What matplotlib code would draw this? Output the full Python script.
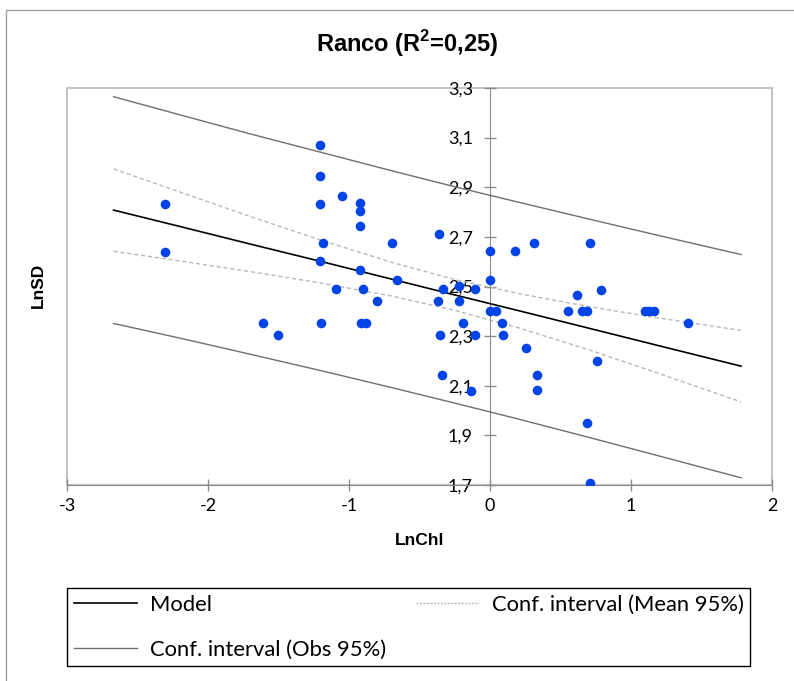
import numpy as np
import matplotlib
matplotlib.use("Agg")
import matplotlib.pyplot as plt
from matplotlib.patches import Rectangle
from matplotlib.lines import Line2D

ln_chl = [-2.303, -2.303, -1.608, -1.501, -1.203, -1.203, -1.203, -1.050, -0.920, -0.920,
          -0.920, -1.187, -1.203, -0.920, -0.693, -0.660, -0.359, 0.000, 0.180, 0.000,
          -1.094, -0.901, -0.799, -0.333, -0.222, -0.106, -0.371, -0.222, 0.000, 0.043,
          -1.199, -0.917, -0.879, -0.191, 0.085, -0.357, -0.104, 0.095, -0.343, -0.137,
          0.615, 0.787, 0.553, 0.650, 0.690, 1.099, 1.131, 1.160, 1.404, 0.258,
          0.759, 0.336, 0.336, 0.690, 0.711, 0.312, 0.711]
ln_sd = [2.834, 2.640, 2.353, 2.304, 3.069, 2.944, 2.834, 2.865, 2.835, 2.804,
         2.744, 2.676, 2.604, 2.566, 2.676, 2.527, 2.710, 2.642, 2.642, 2.527,
         2.489, 2.489, 2.443, 2.489, 2.503, 2.489, 2.443, 2.443, 2.400, 2.400,
         2.353, 2.353, 2.353, 2.353, 2.353, 2.304, 2.304, 2.304, 2.142, 2.080,
         2.466, 2.487, 2.400, 2.400, 2.400, 2.400, 2.400, 2.400, 2.353, 2.254,
         2.198, 2.142, 2.082, 1.949, 1.707, 2.675, 2.675]

# model line and bands, read at a few x positions
band_x = [-2.67, -2.2, -1.7, -1.2, -0.7, -0.25, 0.2, 0.7, 1.2, 1.78]
model_y = [2.808, 2.742, 2.671, 2.601, 2.530, 2.466, 2.403, 2.332, 2.261, 2.179]
mean_up = [2.974, 2.881, 2.782, 2.687, 2.598, 2.528, 2.472, 2.419, 2.373, 2.323]
mean_lo = [2.642, 2.603, 2.560, 2.514, 2.462, 2.404, 2.334, 2.245, 2.149, 2.035]
obs_up = [3.265, 3.192, 3.115, 3.041, 2.967, 2.902, 2.840, 2.772, 2.705, 2.629]
obs_lo = [2.351, 2.292, 2.227, 2.161, 2.093, 2.030, 1.966, 1.892, 1.817, 1.729]

xticks = [-3, -2, -1, 0, 1, 2]
yticks = [1.7, 1.9, 2.1, 2.3, 2.5, 2.7, 2.9, 3.1, 3.3]
ytick_labels = ["1,7", "1,9", "2,1", "2,3", "2,5", "2,7", "2,9", "3,1", "3,3"]

plt.rcParams['mathtext.fontset'] = 'custom'
plt.rcParams['mathtext.rm'] = 'Liberation Sans'
plt.rcParams['mathtext.bf'] = 'Liberation Sans:bold'

fig = plt.figure(figsize=(7.94, 6.81), dpi=100)
ax = fig.add_axes([67/794, 1-485/681, (772-67)/794, (485-88)/681])

# outer chart border
fig.patches.append(Rectangle((6/794, -0.05), 1.1, 1-10/681+0.05, transform=fig.transFigure,
                             fill=False, ec='#a0a0a0', lw=1))

obs_c = '#6e6e6e'
mean_c = '#b8b8b8'
ax.plot(band_x, obs_up, color=obs_c, lw=1.0)
ax.plot(band_x, obs_lo, color=obs_c, lw=1.0)
ax.plot(band_x, mean_up, color=mean_c, lw=1.0, dashes=(3, 2))
ax.plot(band_x, mean_lo, color=mean_c, lw=1.0, dashes=(3, 2))
ax.plot(band_x, model_y, color='black', lw=1.2)
ax.scatter(ln_chl, ln_sd, s=48, color='#0044e6', zorder=5, linewidths=0)

ax.set_xlim(-3, 2)
ax.set_ylim(1.7, 3.3)

for s in ['top', 'right']:
    ax.spines[s].set_visible(False)
ax.add_patch(Rectangle((0, 0), 1, 1, transform=ax.transAxes, fill=False,
                       ec='#c4c4c4', lw=1.5, zorder=0, clip_on=False))
ax.spines['left'].set_position(('data', 0))
ax.spines['left'].set_color('#8c8c8c')
ax.spines['bottom'].set_color('#8c8c8c')
ax.spines['left'].set_zorder(1)

ax.set_xticks(xticks)
ax.set_xticklabels([str(v) for v in xticks])
ax.set_yticks(yticks)
ax.set_yticklabels(ytick_labels)
ax.tick_params(direction='inout', length=8.6, width=1, color='#8c8c8c', labelsize=13)
ax.tick_params(axis='y', pad=8)
ax.tick_params(axis='x', pad=5)
for lab in ax.get_xticklabels() + ax.get_yticklabels():
    lab.set_fontfamily('Lato')

ax.set_xlabel('LnChl', fontsize=12.5, fontweight='bold', family='Liberation Sans', labelpad=14)
fig.text(38/794, 1-285/681, 'LnSD', rotation=90, fontsize=12.5, fontweight='bold',
         family='Liberation Sans', ha='center', va='center')
fig.text(407/794, 1-44/681, r'Ranco (R$^{\mathbf{2}}$=0,25)', fontsize=17, fontweight='bold',
         family='Liberation Sans', ha='center', va='center')

handles = [Line2D([], [], color='black', lw=1.2),
           Line2D([], [], color=obs_c, lw=1.0),
           Line2D([], [], color=mean_c, lw=1.0, dashes=(1.5, 1))]
labels = ['Model', 'Conf. interval (Obs 95%)', 'Conf. interval (Mean 95%)']
leg = fig.legend(handles, labels, ncol=2, loc='upper left',
                 bbox_to_anchor=(67/794, 1-588/681), borderaxespad=0,
                 prop={'family': 'Lato', 'size': 15.8}, handlelength=2.87,
                 handletextpad=0.59, columnspacing=1.37, labelspacing=1.15,
                 fancybox=False, framealpha=1, edgecolor='black', borderpad=0.3)
leg.get_frame().set_linewidth(1)

fig.savefig('out.png', dpi=100)
